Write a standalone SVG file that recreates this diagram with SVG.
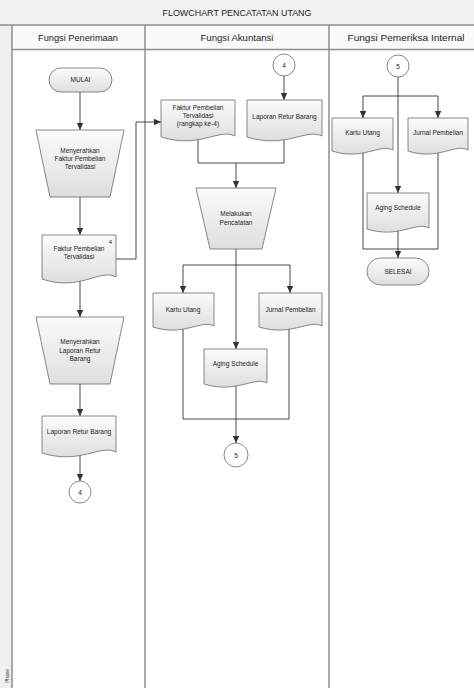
<svg xmlns="http://www.w3.org/2000/svg" width="474" height="688" viewBox="0 0 474 688">
<defs>
<linearGradient id="g" x1="0" y1="0" x2="0" y2="1">
<stop offset="0" stop-color="#fbfbfb"/>
<stop offset="1" stop-color="#dedede"/>
</linearGradient>
<marker id="ah" markerWidth="8" markerHeight="8" refX="7" refY="4" orient="auto" markerUnits="userSpaceOnUse">
<path d="M0,0.8 L7,4 L0,7.2 Z" fill="#333"/>
</marker>
</defs>
<style>
.s{fill:url(#g);stroke:#6a6a6a;stroke-width:0.8}
.c{fill:#fff;stroke:#6a6a6a;stroke-width:0.8}
.t{font-family:"Liberation Sans",Arial,sans-serif;font-size:6.5px;fill:#222;text-anchor:middle}
.h{font-family:"Liberation Sans",Arial,sans-serif;font-size:9.5px;fill:#222;text-anchor:middle}
.l{fill:none;stroke:#333;stroke-width:0.9}
.a{fill:none;stroke:#333;stroke-width:0.9;marker-end:url(#ah)}
.ln{stroke:#8c8c8c;stroke-width:1.5;fill:none}
</style>
<rect x="0" y="0" width="474" height="688" fill="#fff"/>
<g id="frame">
<rect x="0" y="0" width="474" height="25" fill="#f2f2f2"/>
<rect x="0" y="25" width="12" height="663" fill="#f0f0f0"/>
<rect x="12" y="25" width="462" height="24" fill="#fafafa"/>
<text class="h" x="237" y="16" textLength="149" lengthAdjust="spacingAndGlyphs">FLOWCHART PENCATATAN UTANG</text>
<line class="ln" x1="0" y1="25" x2="474" y2="25"/>
<line class="ln" x1="12" y1="49.5" x2="474" y2="49.5"/>
<line class="ln" x1="12" y1="25" x2="12" y2="688"/>
<line class="ln" x1="145" y1="25" x2="145" y2="688"/>
<line class="ln" x1="329" y1="25" x2="329" y2="688"/>
<text class="h" x="78" y="41" textLength="80" lengthAdjust="spacingAndGlyphs">Fungsi Penerimaan</text>
<text class="h" x="237" y="41" textLength="73" lengthAdjust="spacingAndGlyphs">Fungsi Akuntansi</text>
<text class="h" x="406" y="41" textLength="117" lengthAdjust="spacingAndGlyphs">Fungsi Pemeriksa Internal</text>
<text font-family="Liberation Sans,Arial,sans-serif" font-size="5" fill="#444" text-anchor="middle" transform="translate(8.5,676) rotate(-90)">Phase</text>
</g>
<g id="connectors">
<line class="a" x1="80" y1="92" x2="80" y2="130"/>
<line class="a" x1="80" y1="197" x2="80" y2="235"/>
<line class="a" x1="80" y1="280" x2="80" y2="317"/>
<line class="a" x1="80" y1="384" x2="80" y2="416"/>
<line class="a" x1="80" y1="454" x2="80" y2="481"/>
<polyline class="a" points="116,259 136,259 136,122 161,122"/>
<line class="a" x1="284" y1="76" x2="284" y2="100"/>
<polyline class="l" points="198,137 198,163 284,163 284,136"/>
<line class="a" x1="236" y1="163" x2="236" y2="188"/>
<line class="a" x1="236" y1="249" x2="236" y2="349"/>
<polyline class="a" points="236,265 183,265 183,293"/>
<polyline class="a" points="236,265 290,265 290,293"/>
<polyline class="l" points="183,328 183,419 289,419 289,328"/>
<line class="a" x1="236" y1="385" x2="236" y2="443"/>
<line class="a" x1="398" y1="77" x2="398" y2="193"/>
<polyline class="a" points="398,96 363,96 363,118"/>
<polyline class="a" points="398,96 438,96 438,118"/>
<polyline class="l" points="363,151 363,249 438,249 438,151"/>
<line class="a" x1="398" y1="230" x2="398" y2="258"/>
</g>
<g id="n_mulai">
<rect class="s" x="49" y="68" width="63" height="24" rx="12"/>
<text class="t" x="80.5" y="82.3">MULAI</text>
</g>
<g id="n_serah_faktur">
<path class="s" d="M36,130 H124 L110,197 H50 Z"/>
<text class="t" x="80" y="152.5">Menyerahkan</text>
<text class="t" x="80" y="160.5">Faktur Pembelian</text>
<text class="t" x="80" y="168.5">Tervalidasi</text>
</g>
<g id="n_faktur">
<path class="s" d="M42,235 H116 V277 C100,268 80,292 42,279 Z"/>
<text class="t" x="79" y="251">Faktur Pembelian</text>
<text class="t" x="79" y="259">Tervalidasi</text>
<text class="t" x="110.5" y="244" style="font-size:6px">4</text>
</g>
<g id="n_serah_retur">
<path class="s" d="M36,317 H124 L110,384 H50 Z"/>
<text class="t" x="80" y="344">Menyerahkan</text>
<text class="t" x="80" y="352.5">Laporan Retur</text>
<text class="t" x="80" y="361">Barang</text>
</g>
<g id="n_retur">
<path class="s" d="M42,416 H116 V452 C100,444 80,465 42,453 Z"/>
<text class="t" x="79" y="434">Laporan Retur Barang</text>
</g>
<g id="n_off4a">
<circle class="c" cx="80" cy="492" r="11"/>
<text class="t" x="80" y="494.5">4</text>
</g>
<g id="n_off4b">
<circle class="c" cx="284" cy="65" r="11"/>
<text class="t" x="284" y="67.5">4</text>
</g>
<g id="n_faktur4">
<path class="s" d="M161,100 H235 V136 C219,128 199,149 161,137 Z"/>
<text class="t" x="198" y="110">Faktur Pembelian</text>
<text class="t" x="198" y="118">Tervalidasi</text>
<text class="t" x="198" y="126">(rangkap ke-4)</text>
</g>
<g id="n_retur2">
<path class="s" d="M247,100 H322 V136 C306,128 286,149 247,137 Z"/>
<text class="t" x="284.5" y="119">Laporan Retur Barang</text>
</g>
<g id="n_catat">
<path class="s" d="M196,188 H276 L262,249 H210 Z"/>
<text class="t" x="236" y="216">Melakukan</text>
<text class="t" x="236" y="225">Pencatatan</text>
</g>
<g id="n_kartu2">
<path class="s" d="M153,293 H214 V326 C201,319 184,337 153,327 Z"/>
<text class="t" x="183" y="312">Kartu Utang</text>
</g>
<g id="n_jurnal2">
<path class="s" d="M259,293 H322 V326 C309,319 291,337 259,327 Z"/>
<text class="t" x="290.5" y="312">Jurnal Pembelian</text>
</g>
<g id="n_aging2">
<path class="s" d="M204,349 H267 V383 C254,376 236,394 204,384 Z"/>
<text class="t" x="235.5" y="366">Aging Schedule</text>
</g>
<g id="n_off5a">
<circle class="c" cx="236" cy="455" r="12"/>
<text class="t" x="236" y="457.5">5</text>
</g>
<g id="n_off5b">
<circle class="c" cx="398" cy="66" r="11"/>
<text class="t" x="398" y="68.5">5</text>
</g>
<g id="n_kartu3">
<path class="s" d="M332,118 H393 V150 C380,143 363,161 332,151 Z"/>
<text class="t" x="362.5" y="135">Kartu Utang</text>
</g>
<g id="n_jurnal3">
<path class="s" d="M408,118 H468 V150 C455,143 438,161 408,151 Z"/>
<text class="t" x="438" y="135">Jurnal Pembelian</text>
</g>
<g id="n_aging3">
<path class="s" d="M367,193 H429 V228 C416,221 399,239 367,229 Z"/>
<text class="t" x="398" y="210">Aging Schedule</text>
</g>
<g id="n_selesai">
<rect class="s" x="367" y="258" width="62" height="27" rx="13.5"/>
<text class="t" x="398" y="274">SELESAI</text>
</g>
</svg>
